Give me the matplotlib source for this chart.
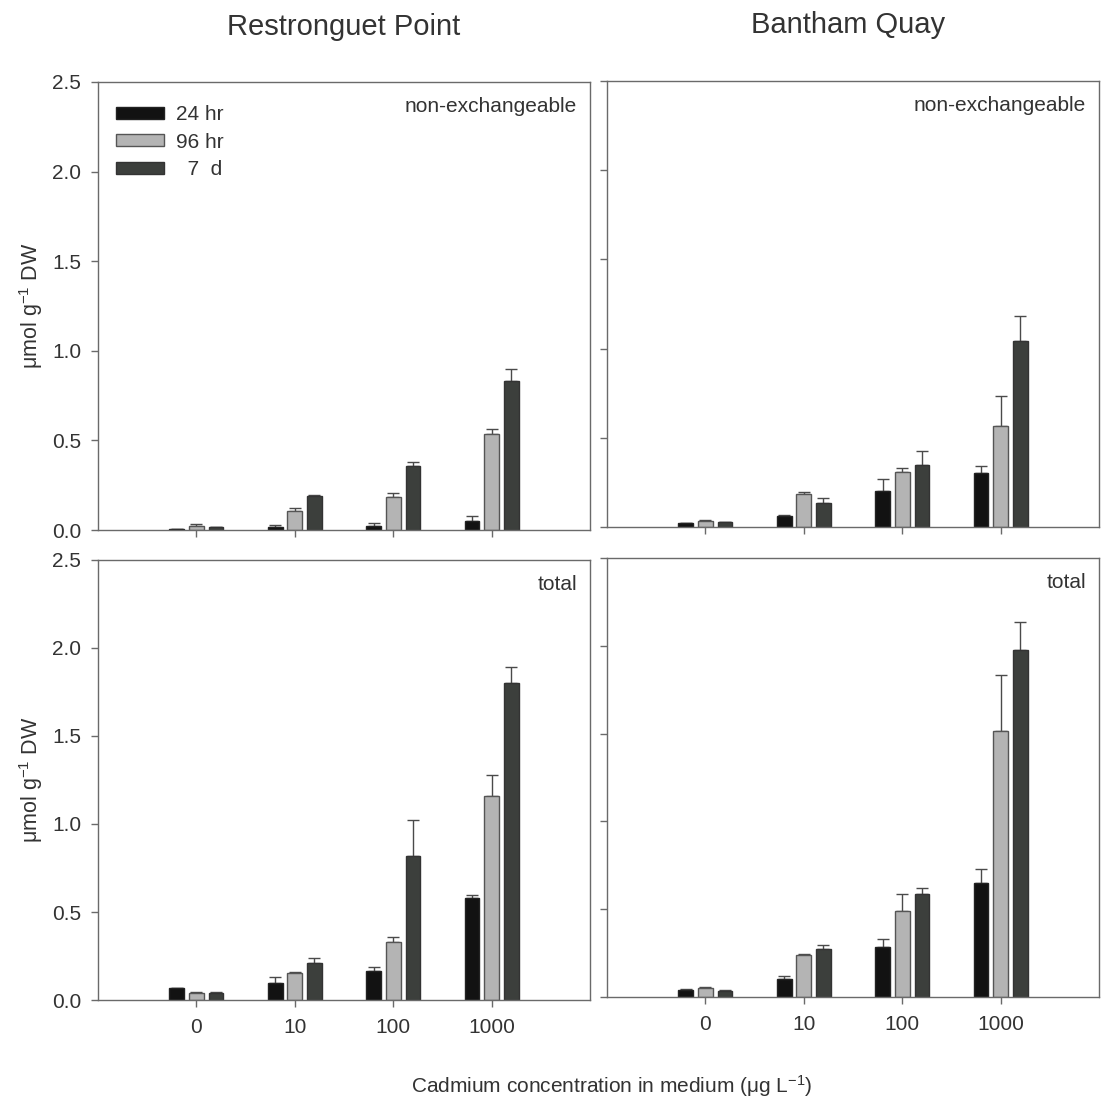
import numpy as np
import matplotlib
matplotlib.use("Agg")
import matplotlib.pyplot as plt

plt.rcParams['font.family'] = ['Liberation Sans', 'DejaVu Sans']
plt.rcParams['mathtext.fontset'] = 'custom'
plt.rcParams['mathtext.rm'] = 'Liberation Sans'
plt.rcParams['mathtext.it'] = 'Liberation Sans:italic'
plt.rcParams['mathtext.default'] = 'regular'

# Cadmium concentrations (µg/L) and exposure times
concentrations = ["0", "10", "100", "1000"]
series = ["24 hr", "96 hr", "  7  d"]

# Restronguet Point, non-exchangeable (mean, SE) per series
rp_nonex = [[0.005, 0.015, 0.020, 0.048],
            [0.025, 0.107, 0.185, 0.534],
            [0.015, 0.187, 0.358, 0.831]]
rp_nonex_err = [[0.002, 0.015, 0.020, 0.032],
                [0.006, 0.013, 0.020, 0.031],
                [0.003, 0.007, 0.022, 0.070]]

# Bantham Quay, non-exchangeable
bq_nonex = [[0.020, 0.062, 0.202, 0.302],
            [0.032, 0.187, 0.309, 0.567],
            [0.026, 0.133, 0.347, 1.043]]
bq_nonex_err = [[0.003, 0.003, 0.067, 0.040],
                [0.006, 0.010, 0.019, 0.167],
                [0.004, 0.028, 0.080, 0.137]]

# Restronguet Point, total
rp_total = [[0.066, 0.097, 0.166, 0.579],
            [0.038, 0.153, 0.327, 1.160],
            [0.038, 0.212, 0.820, 1.800]]
rp_total_err = [[0.003, 0.031, 0.020, 0.017],
                [0.005, 0.005, 0.030, 0.120],
                [0.005, 0.028, 0.200, 0.090]]

# Bantham Quay, total
bq_total = [[0.042, 0.101, 0.286, 0.649],
            [0.050, 0.242, 0.490, 1.513],
            [0.036, 0.272, 0.585, 1.976]]
bq_total_err = [[0.004, 0.021, 0.044, 0.082],
                [0.008, 0.005, 0.097, 0.320],
                [0.004, 0.023, 0.034, 0.162]]

fill_colors = ["#121212", "#b4b4b4", "#3c3f3c"]
edge_colors = ["#222222", "#555555", "#333333"]
spine_color = "#6a6a6a"
text_color = "#333333"

W, H = 1102, 1100
fig = plt.figure(figsize=(W / 100, H / 100), dpi=100)

def rect(l, t, r, b):
    return [l / W, 1 - b / H, (r - l) / W, (b - t) / H]

panels = [
    ((98, 82, 590, 530), rp_nonex, rp_nonex_err, "non-exchangeable", True, False, True),
    ((607, 81, 1099, 527), bq_nonex, bq_nonex_err, "non-exchangeable", False, False, False),
    ((98, 560, 590, 1000), rp_total, rp_total_err, "total", True, True, False),
    ((607, 558, 1099, 997), bq_total, bq_total_err, "total", False, True, False),
]

x = np.arange(1, len(concentrations) + 1)
width = 0.15
offsets = [-0.2, 0.0, 0.2]
ylabel = r"μmol g$^{-1}$ DW"
fs = 15

for box, vals, errs, label, show_y, show_x, legend in panels:
    l, t, r, b = box
    ax = fig.add_axes(rect(l, t, r, b))
    handles = []
    for i in range(3):
        v = np.array(vals[i])
        e = np.array(errs[i])
        bars = ax.bar(x + offsets[i], v, width, color=fill_colors[i],
                      edgecolor=edge_colors[i], linewidth=1.0, label=series[i], zorder=2)
        ax.errorbar(x + offsets[i], v, yerr=[np.zeros_like(e), e], fmt="none",
                    ecolor="#4a4a4a", elinewidth=1.0, capsize=4.5, capthick=1.0, zorder=1)
        handles.append(bars)
    ax.set_xlim(0, 5)
    ax.set_ylim(0, 2.5)
    ax.set_yticks(np.arange(0, 2.51, 0.5))
    ax.set_xticks(x)
    for s in ax.spines.values():
        s.set_color(spine_color)
        s.set_linewidth(1.0)
    ax.tick_params(axis="both", direction="out", length=5, width=1.0,
                   color=spine_color, labelsize=fs, labelcolor=text_color)
    ax.tick_params(axis="y", pad=7)
    if show_y:
        ax.set_yticklabels([f"{v:.1f}" for v in np.arange(0, 2.51, 0.5)])
        ax.set_ylabel(ylabel, fontsize=15.5, color=text_color, labelpad=5)
    else:
        ax.set_yticklabels([])
    if show_x:
        ax.set_xticklabels(concentrations)
        ax.tick_params(axis="x", pad=8)
    else:
        ax.set_xticklabels([])
    ax.text(1 - 13 / (r - l), 1 - 25 / (b - t), label, transform=ax.transAxes,
            ha="right", va="center", fontsize=fs, color=text_color)
    if legend:
        ax.legend(handles=handles, loc="upper left",
                  bbox_to_anchor=((116 - l) / (r - l), 1 - (105 - t) / (b - t)),
                  borderaxespad=0, borderpad=0,
                  frameon=False, fontsize=fs, handlelength=2.3, handleheight=0.5,
                  labelspacing=0.42, handletextpad=0.6, labelcolor=text_color)

fig.text(344 / W, 1 - 27 / H, "Restronguet Point", ha="center", va="center",
         fontsize=21, color=text_color)
fig.text(848 / W, 1 - 25 / H, "Bantham Quay", ha="center", va="center",
         fontsize=21, color=text_color)
fig.text(612 / W, 1 - 1086 / H, r"Cadmium concentration in medium (μg L$^{-1}$)",
         ha="center", va="center", fontsize=fs, color=text_color)

fig.savefig("out.png", dpi=100, facecolor="white")
